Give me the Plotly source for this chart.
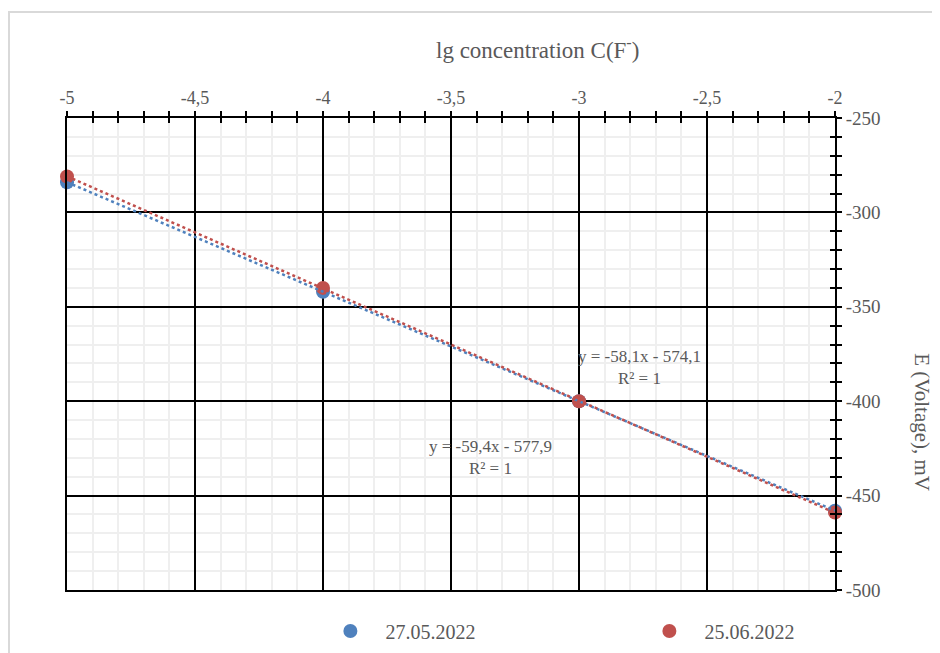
import numpy as np
import plotly.graph_objects as go

# ---- data ----
lg_conc = [-5, -4, -3, -2]
e_2705 = [-284, -342, -400, -458]
e_2506 = [-281, -340, -400, -459]
series_names = ["27.05.2022", "25.06.2022"]
eq_labels = ["y = -58,1x - 574,1<br>R² = 1", "y = -59,4x - 577,9<br>R² = 1"]
x_ticks = [-5, -4.5, -4, -3.5, -3, -2.5, -2]
x_ticktext = ["-5", "-4,5", "-4", "-3,5", "-3", "-2,5", "-2"]
y_ticks = [-250, -300, -350, -400, -450, -500]
y_ticktext = ["-250", "-300", "-350", "-400", "-450", "-500"]

BLUE = "#4F81BD"
RED = "#C0504D"
GREY = "#595959"
FONT = "Liberation Serif"

fig = go.Figure()

# markers
for ys, name, col in [(e_2705, series_names[0], BLUE), (e_2506, series_names[1], RED)]:
    fig.add_trace(go.Scatter(x=lg_conc, y=ys, mode="markers", name=name, cliponaxis=False,
                             marker=dict(color=col, size=14), hoverinfo="x+y"))

# linear trendlines
xs = np.array([min(lg_conc), max(lg_conc)], dtype=float)
for ys, col in [(e_2705, BLUE), (e_2506, RED)]:
    k, b = np.polyfit(lg_conc, ys, 1)
    fig.add_trace(go.Scatter(x=xs, y=k * xs + b, mode="lines", showlegend=False,
                             line=dict(color=col, width=2.5, dash="dot"), hoverinfo="skip"))

# dummy trace for overlay axes (inside ticks -> crossing tick marks)
fig.add_trace(go.Scatter(x=[-3], y=[-400], xaxis="x2", yaxis="y2", showlegend=False,
                         mode="markers", marker=dict(opacity=0), hoverinfo="skip"))

tickfont = dict(family=FONT, size=18, color=GREY)
ytickfont = dict(family=FONT, size=19, color=GREY)

fig.update_layout(
    width=940, height=653,
    margin=dict(l=59, r=113, t=110, b=71, autoexpand=False),
    paper_bgcolor="white", plot_bgcolor="white",
    separators=", ",
    showlegend=True,
    legend=dict(orientation="h", xref="container", yref="container",
                x=0.327, xanchor="left", y=0.046, yanchor="middle",
                bgcolor="rgba(0,0,0,0)",
                font=dict(family=FONT, size=20, color=GREY),
                entrywidth=244, entrywidthmode="pixels", itemwidth=60),
    xaxis=dict(side="top", range=[-5, -2], tickvals=x_ticks, ticktext=x_ticktext,
               tickfont=tickfont, automargin=False,
               showgrid=True, gridcolor="black", gridwidth=2,
               showline=True, linecolor="black", linewidth=2, mirror=True,
               ticks="outside", ticklen=5, tickwidth=2, tickcolor="black",
               zeroline=False,
               minor=dict(dtick=0.1, showgrid=True, gridcolor="#EFEFEF", gridwidth=2,
                          ticks="outside", ticklen=5, tickwidth=2, tickcolor="black")),
    yaxis=dict(side="right", range=[-500, -250], tickvals=y_ticks, ticktext=y_ticktext,
               tickfont=ytickfont, automargin=False,
               showgrid=True, gridcolor="black", gridwidth=2,
               showline=True, linecolor="black", linewidth=2, mirror=True,
               ticks="outside", ticklen=5, tickwidth=2, tickcolor="black",
               zeroline=False,
               minor=dict(dtick=10, showgrid=True, gridcolor="#EFEFEF", gridwidth=2,
                          ticks="outside", ticklen=5, tickwidth=2, tickcolor="black")),
    xaxis2=dict(overlaying="x", side="top", anchor="y2", range=[-5, -2], tickvals=x_ticks,
                showticklabels=False, showgrid=False, zeroline=False, automargin=False,
                ticks="inside", ticklen=5, tickwidth=2, tickcolor="black",
                minor=dict(dtick=0.1, ticks="inside", ticklen=5, tickwidth=2, tickcolor="black")),
    yaxis2=dict(overlaying="y", side="right", anchor="x2", range=[-500, -250], tickvals=y_ticks,
                showticklabels=False, showgrid=False, zeroline=False, automargin=False,
                ticks="inside", ticklen=5, tickwidth=2, tickcolor="black",
                minor=dict(dtick=10, ticks="inside", ticklen=5, tickwidth=2, tickcolor="black")),
)

# axis titles
fig.add_annotation(text="lg concentration C(F<sup>-</sup>)", xref="paper", yref="paper",
                   x=0.612, y=1.148, xanchor="center", yanchor="middle", showarrow=False,
                   font=dict(family=FONT, size=23, color=GREY))
fig.add_annotation(text="E (Voltage), mV", xref="paper", yref="paper",
                   x=1.113, y=0.356, xanchor="center", yanchor="middle",
                   showarrow=False, textangle=90,
                   font=dict(family=FONT, size=21, color=GREY))

# trendline equation labels
fig.add_annotation(text=eq_labels[0], x=-2.762, y=-382, showarrow=False,
                   font=dict(family=FONT, size=17, color=GREY))
fig.add_annotation(text=eq_labels[1], x=-3.345, y=-430, showarrow=False,
                   font=dict(family=FONT, size=17, color=GREY))

# chart frame
fig.add_shape(type="rect", xref="paper", yref="paper", x0=-0.0755, y0=-0.25, x1=1.25, y1=1.2246,
              line=dict(color="#D9D9D9", width=2), fillcolor="rgba(0,0,0,0)", layer="below")

fig.write_html("out.html")
